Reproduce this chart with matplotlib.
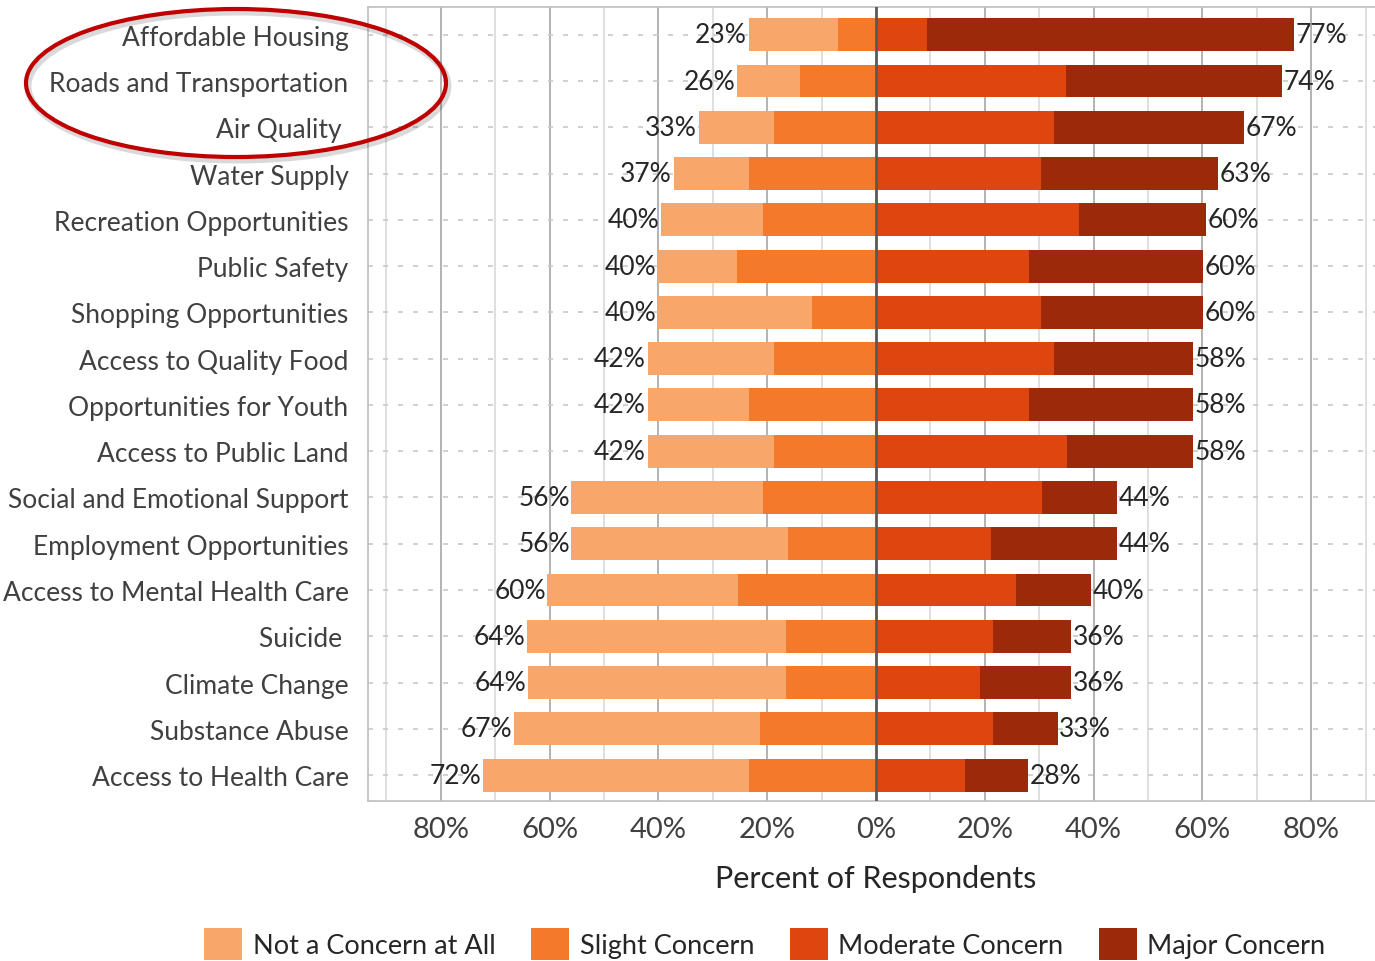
import numpy as np
import matplotlib
matplotlib.use('Agg')
import matplotlib.pyplot as plt
from matplotlib.patches import Ellipse, Patch

categories = ['Affordable Housing', 'Roads and Transportation', 'Air Quality ', 'Water Supply',
              'Recreation Opportunities', 'Public Safety', 'Shopping Opportunities',
              'Access to Quality Food', 'Opportunities for Youth', 'Access to Public Land',
              'Social and Emotional Support', 'Employment Opportunities',
              'Access to Mental Health Care', 'Suicide ', 'Climate Change', 'Substance Abuse',
              'Access to Health Care']

notConcern = [16.4, 11.6, 13.9, 13.8, 18.8, 14.5, 28.3, 23.3, 18.7, 23.3, 35.2, 39.8, 35.0, 47.6, 47.4, 45.2, 48.9]
slight = [7.0, 13.9, 18.7, 23.4, 20.8, 25.5, 11.7, 18.7, 23.3, 18.7, 20.8, 16.2, 25.4, 16.6, 16.6, 21.4, 23.3]
moderate = [9.4, 35.0, 32.7, 30.4, 37.4, 28.2, 30.4, 32.7, 28.2, 35.1, 30.6, 21.2, 25.8, 21.6, 19.1, 21.6, 16.4]
major = [67.5, 39.6, 34.9, 32.4, 23.2, 32.0, 29.8, 25.6, 30.0, 23.2, 13.8, 23.2, 13.8, 14.3, 16.8, 11.8, 11.5]

leftLabels = ['23%', '26%', '33%', '37%', '40%', '40%', '40%', '42%', '42%', '42%',
              '56%', '56%', '60%', '64%', '64%', '67%', '72%']
rightLabels = ['77%', '74%', '67%', '63%', '60%', '60%', '60%', '58%', '58%', '58%',
               '44%', '44%', '40%', '36%', '36%', '33%', '28%']

xTicks = [-80, -60, -40, -20, 0, 20, 40, 60, 80]
xTickLabels = ['80%', '60%', '40%', '20%', '0%', '20%', '40%', '60%', '80%']

seriesNames = ['Not a Concern at All', 'Slight Concern', 'Moderate Concern', 'Major Concern']
colors = ['#F9A66B', '#F37A2B', '#DE450F', '#9C2A0A']


def makeGraph():
    plt.rcParams['font.family'] = ['Lato', 'DejaVu Sans']
    fig = plt.figure(figsize=[13.75, 9.62], dpi=100)
    ax = fig.add_axes([368 / 1375, 1 - 802 / 962, 1016 / 1375, 794 / 962])

    y = np.arange(len(categories))
    nc = np.array(notConcern)
    sl = np.array(slight)
    mo = np.array(moderate)
    mj = np.array(major)
    h = 0.71

    # left side goes negative
    ax.barh(y, -sl, height=h, color=colors[1], zorder=3)
    ax.barh(y, -nc, left=-sl, height=h, color=colors[0], zorder=3)
    ax.barh(y, mo, height=h, color=colors[2], zorder=3)
    ax.barh(y, mj, left=mo, height=h, color=colors[3], zorder=3)

    for i in range(len(categories)):
        ax.text(-(nc[i] + sl[i]) - 0.3, y[i], leftLabels[i], ha='right', va='center',
                fontsize=19, color='#262626', zorder=4)
        ax.text(mo[i] + mj[i] + 0.3, y[i], rightLabels[i], ha='left', va='center',
                fontsize=19, color='#262626', zorder=4)

    # grid
    for gx in range(-90, 100, 10):
        if gx == 0:
            continue
        c = '#A6A6A6' if gx % 20 == 0 else '#D9D9D9'
        ax.axvline(gx, color=c, lw=1.2, zorder=1)
    for yy in y:
        ax.axhline(yy, color='#C8C8C8', lw=1.2, ls=(0, (3, 6)), zorder=1)
    ax.axvline(0, color='#595959', lw=2, zorder=5)

    ax.set_xlim(-93.4, 93.4)
    ax.set_ylim(len(categories) - 1 + 0.56, -0.6)
    ax.set_yticks(y)
    ax.set_yticklabels(categories, fontsize=19, color='#404040')
    ax.set_xticks(xTicks)
    ax.set_xticklabels(xTickLabels, fontsize=21, color='#404040')
    ax.tick_params(axis='both', length=0)
    ax.tick_params(axis='y', pad=14)
    ax.tick_params(axis='x', pad=11)
    ax.set_xlabel('Percent of Respondents', fontsize=22, color='#262626', labelpad=16)
    for s in ax.spines.values():
        s.set_color('#BFBFBF')
        s.set_linewidth(1.2)

    handles = [Patch(facecolor=c, edgecolor='none') for c in colors]
    fig.legend(handles, seriesNames, loc='upper center', bbox_to_anchor=(765 / 1375, 1 - 905 / 962),
               ncol=4, frameon=False, fontsize=19.5, handlelength=1.4, handleheight=1.4,
               handletextpad=0.4, columnspacing=1.3, labelcolor='#262626')

    # red callout ring around the top three
    shadow = Ellipse((238 / 1375, 1 - 87 / 962), 420 / 1375, 148 / 962, transform=fig.transFigure,
                     fill=False, edgecolor='#000000', lw=5, alpha=0.15)
    ring = Ellipse((236 / 1375, 1 - 84 / 962), 420 / 1375, 148 / 962, transform=fig.transFigure,
                   fill=False, edgecolor='#C00000', lw=3)
    fig.patches.append(shadow)
    fig.patches.append(ring)

    plt.savefig('out.png', dpi=100)
    plt.close()


if __name__ == '__main__':
    makeGraph()
